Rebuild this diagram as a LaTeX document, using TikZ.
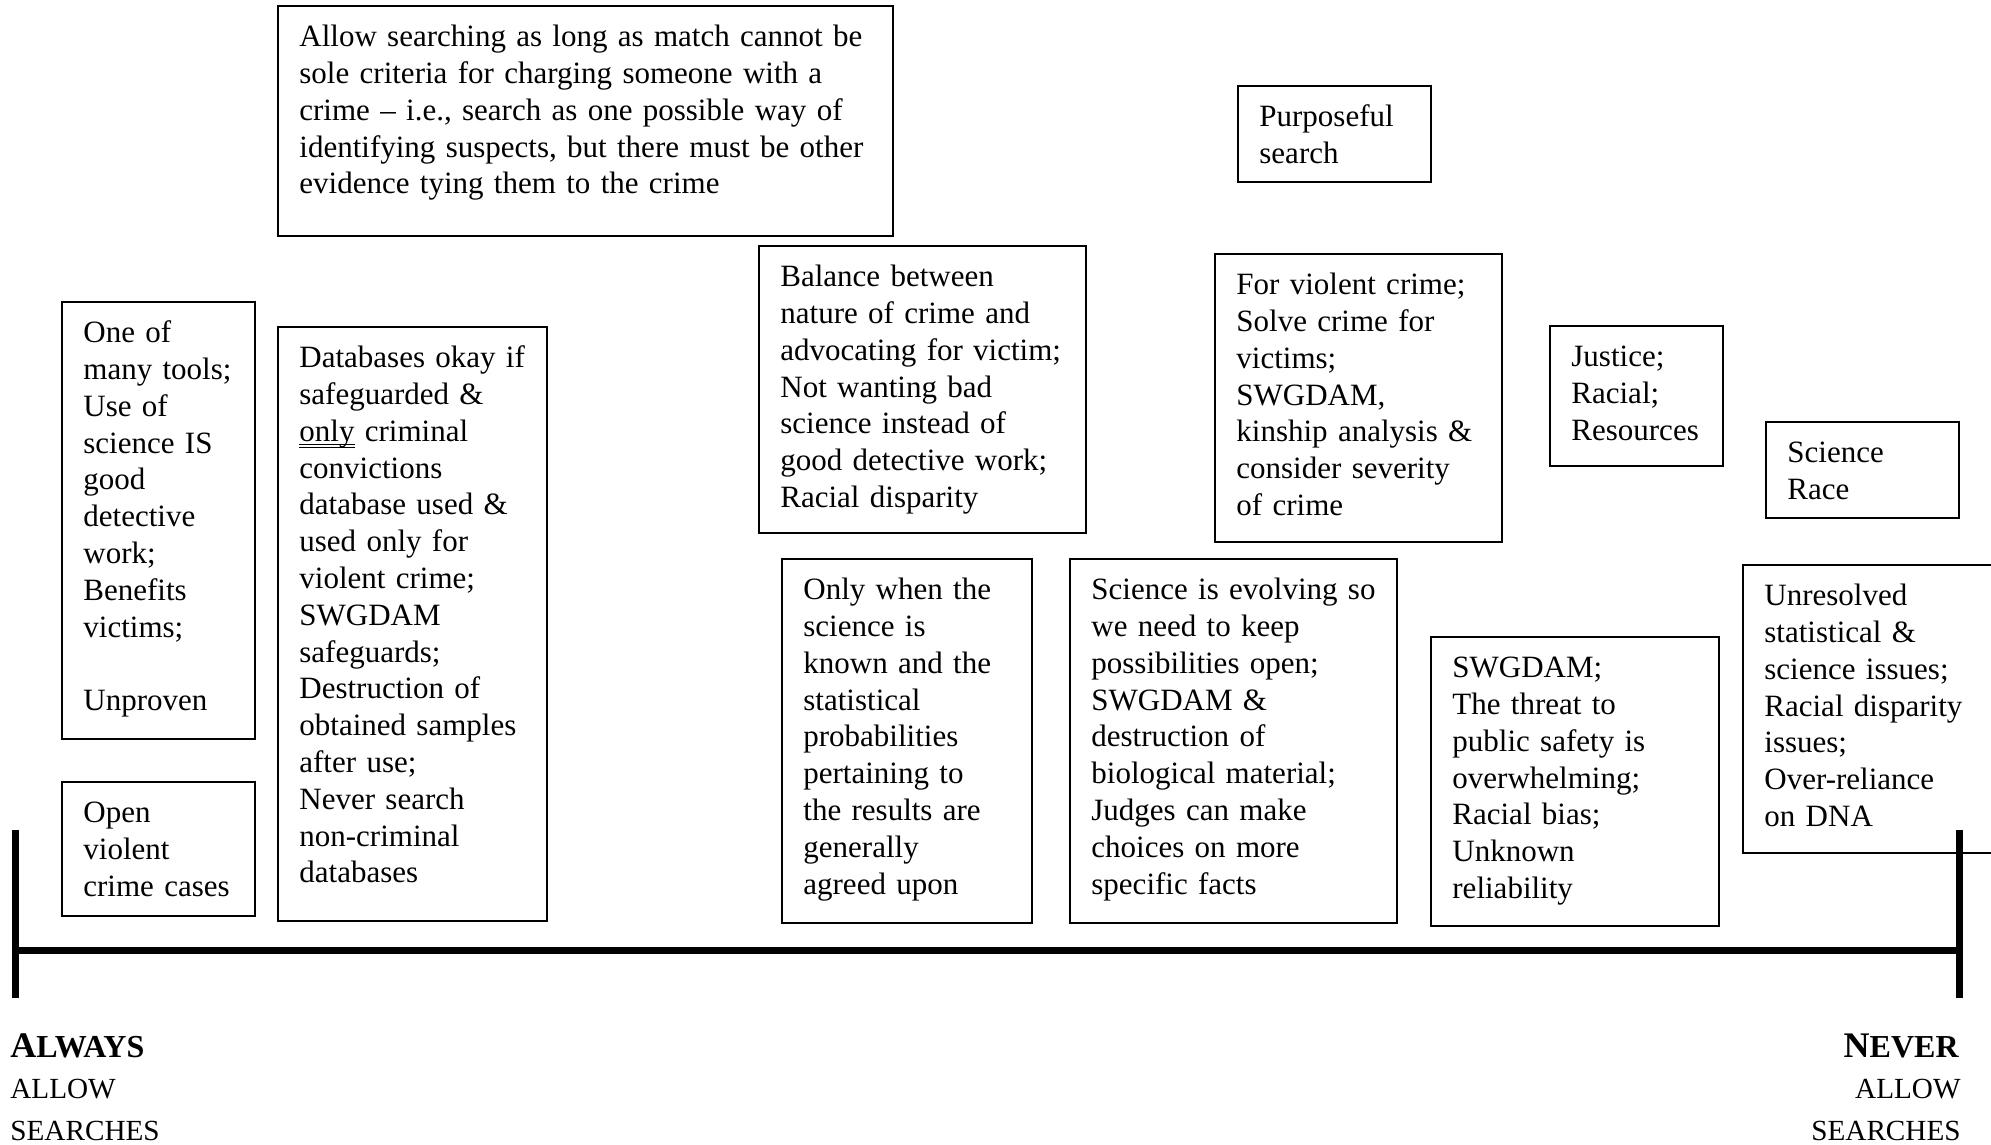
\documentclass[tikz,border=0pt]{standalone}
\usepackage{fontspec}
\setmainfont{Liberation Serif}
\newsavebox\dulbox
\newcommand\dblul[1]{\leavevmode\sbox\dulbox{#1}\hbox{\rlap{\rule[-2.0pt]{\wd\dulbox}{0.45pt}}\rlap{\rule[-3.4pt]{\wd\dulbox}{0.45pt}}\usebox\dulbox}}
\tikzset{
  box/.style={draw, line width=1pt, inner sep=0pt},
  txt/.style={anchor=north west, inner sep=0pt, text width=#1, align=left,
    font=\fontsize{15.5}{18.4}\selectfont},
  axis/.style={line width=3.5pt},
  lbl/.style={inner sep=0pt, font=\fontsize{14.6}{17}\selectfont},
}
% #1 name, #2 x1, #3 y1, #4 x2, #5 y2, #6 text  (pixel coordinates)
\newcommand\tbox[6]{%
  \node[box, minimum width={0.5pt*(#4-#2)}, minimum height={0.5pt*(#5-#3)}]
    (#1) at ({(#2+#4)/2},{(#3+#5)/2}) {};
  \node[txt={0.5pt*(#4-#2-22)}] (#1t) at ([xshift=11pt,yshift=-7.8pt]#1.north west) {\strut #6};
}
\begin{document}
\begin{tikzpicture}[x=0.5pt,y=-0.5pt]
\useasboundingbox (0,0) rectangle (1991,1145);

\tbox{top}{278}{6}{893}{236}{Allow searching as long as match cannot be\\sole criteria for charging someone with a\\crime – i.e., search as one possible way of\\identifying suspects, but there must be other\\evidence tying them to the crime}
\tbox{purp}{1238}{86}{1431}{182}{Purposeful\\search}
\tbox{tools}{62}{302}{255}{739}{One of\\many tools;\\Use of\\science IS\\good\\detective\\work;\\Benefits\\victims;\\\strut\\Unproven}
\tbox{dbs}{278}{327}{547}{921}{Databases okay if\\safeguarded \&\\\dblul{only} criminal\\convictions\\database used \&\\used only for\\violent crime;\\SWGDAM\\safeguards;\\Destruction of\\obtained samples\\after use;\\Never search\\non-criminal\\databases}
\tbox{bal}{759}{246}{1086}{533}{Balance between\\nature of crime and\\advocating for victim;\\Not wanting bad\\science instead of\\good detective work;\\Racial disparity}
\tbox{viol}{1215}{254}{1502}{542}{For violent crime;\\Solve crime for\\victims;\\SWGDAM,\\kinship analysis \&\\consider severity\\of crime}
\tbox{just}{1550}{326}{1723}{466}{Justice;\\Racial;\\Resources}
\tbox{race}{1766}{422}{1959}{518}{Science\\Race}
\tbox{open}{62}{782}{255}{916}{Open\\violent\\crime cases}
\tbox{only}{782}{559}{1032}{923}{Only when the\\science is\\known and the\\statistical\\probabilities\\pertaining to\\the results are\\generally\\agreed upon}
\tbox{evol}{1070}{559}{1397}{923}{Science is evolving so\\we need to keep\\possibilities open;\\SWGDAM \&\\destruction of\\biological material;\\Judges can make\\choices on more\\specific facts}
\tbox{threat}{1431}{637}{1719}{926}{SWGDAM;\\The threat to\\public safety is\\overwhelming;\\Racial bias;\\Unknown\\reliability}
\tbox{unres}{1743}{565}{2010}{853}{Unresolved\\statistical \&\\science issues;\\Racial disparity\\issues;\\Over-reliance\\on DNA}

% timeline
\coordinate (L) at (15.5,950.5);
\coordinate (R) at (1959.5,950.5);
\coordinate (Lt) at (15.5,830);
\coordinate (Lb) at (15.5,998);
\coordinate (Rt) at (1959.5,830);
\coordinate (Rb) at (1959.5,998);
\draw[axis] (L) -- (R);
\draw[axis] (Lt) -- (Lb);
\draw[axis] (Rt) -- (Rb);

% end labels
\node[lbl, anchor=base west] (always) at (10,1057) {\bfseries\fontsize{18}{18}\selectfont A\fontsize{16}{18}\selectfont LWAYS};
\node[lbl, anchor=base west] (allowL) at (10,1098) {ALLOW};
\node[lbl, anchor=base west] (searchL) at (10,1140) {SEARCHES};
\node[lbl, anchor=base east] (never) at (1959,1057) {\bfseries\fontsize{18}{18}\selectfont N\fontsize{16}{18}\selectfont EVER};
\node[lbl, anchor=base east] (allowR) at (1961,1098) {ALLOW};
\node[lbl, anchor=base east] (searchR) at (1961,1140) {SEARCHES};
\end{tikzpicture}
\end{document}
